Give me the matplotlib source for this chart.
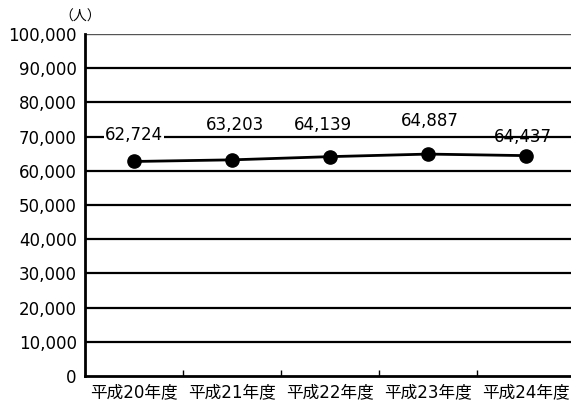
import numpy as np
import matplotlib.pyplot as plt

years = ['平成20年度', '平成21年度', '平成22年度', '平成23年度', '平成24年度']
people = [62724, 63203, 64139, 64887, 64437]
yticks = list(range(0, 100001, 10000))

# label offsets in pixels (dx, dy) as placed in the original
label_offsets = [(0, 26), (3, 35), (-7, 32), (2, 33), (-3, 19)]

plt.rcParams['font.family'] = ['DejaVu Sans', 'Noto Sans CJK JP']

fig = plt.figure(figsize=(5.71, 4.01), dpi=100)
ax = fig.add_axes([85 / 571, 25 / 401, 490 / 571, 342 / 401])

x = np.arange(len(years))
ax.plot(x, people, color='black', linewidth=2, marker='o', markersize=9.5, zorder=3)

for i, v in enumerate(people):
    box = dict(facecolor='white', edgecolor='none', pad=1) if i == 0 else None
    ax.annotate(f'{v:,}', (x[i], v), xytext=label_offsets[i], textcoords='offset pixels',
                ha='center', va='center', fontsize=12, bbox=box, zorder=4)

ax.set_xlim(-0.5, len(years) - 0.5)
ax.set_ylim(0, 100000)
ax.set_yticks(yticks)
ax.set_yticklabels([f'{t:,}' for t in yticks], fontsize=12)
ax.set_xticks(x)
ax.set_xticklabels(years, fontsize=12)
ax.set_xticks(x[:-1] + 0.5, minor=True)
ax.tick_params(axis='x', which='major', length=0, pad=5)
ax.tick_params(axis='x', which='minor', direction='in', length=4, width=1)
ax.tick_params(axis='y', length=0, pad=6)

for t in yticks[1:-1]:
    ax.axhline(t, color='black', linewidth=1.6, zorder=1)
ax.axhline(100000, color='#555555', linewidth=1, zorder=1)

for s in ['top', 'right']:
    ax.spines[s].set_visible(False)
ax.spines['left'].set_linewidth(2)
ax.spines['bottom'].set_linewidth(2)

fig.text(80 / 571, 1 - 17 / 401, '（人）', fontsize=10, ha='center', va='center')

fig.savefig('out.png', dpi=100)
